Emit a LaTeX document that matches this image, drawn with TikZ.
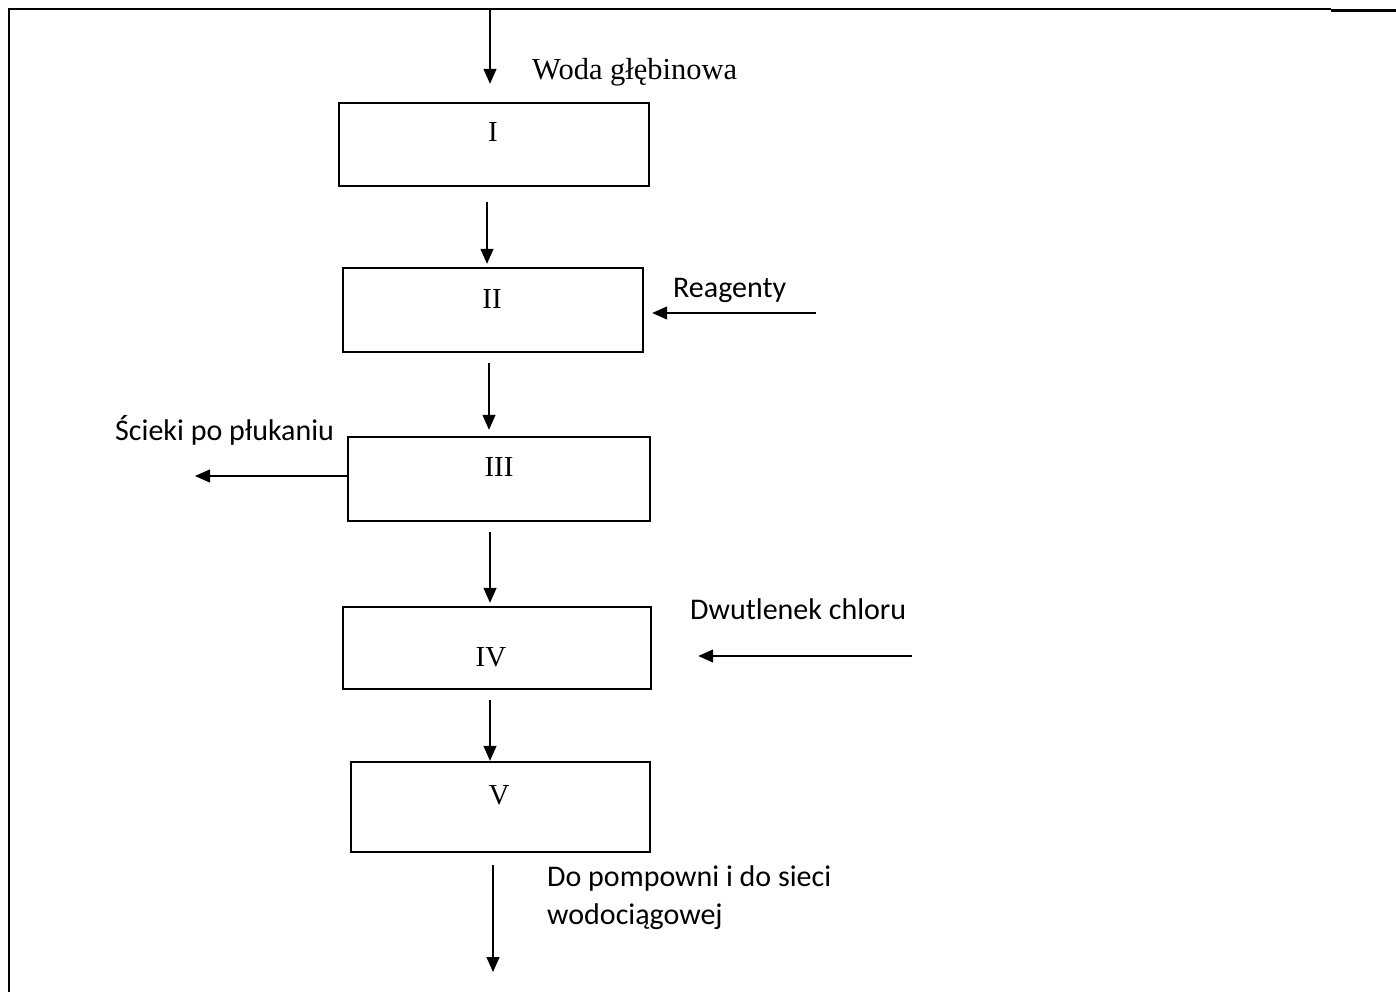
\documentclass[tikz,border=0pt]{standalone}
\usepackage{fontspec}
\setmainfont{Liberation Serif}
\newfontfamily\calib{Carlito}
\usetikzlibrary{arrows.meta}
\begin{document}
\begin{tikzpicture}[x=1pt,y=-1pt,
  box/.style={draw,line width=2.4pt,rectangle,inner sep=0pt},
  numeral/.style={font=\fontsize{29}{31}\selectfont,inner sep=0pt},
  arr/.style={line width=1.3pt,-{Triangle[length=15pt,width=13pt]}},
  serlab/.style={font=\fontsize{30.5}{34}\selectfont,inner sep=0pt,anchor=base west},
  sanslab/.style={font=\calib\fontsize{30}{38}\selectfont,inner sep=0pt,anchor=base west},
  frame/.style={line width=2pt}]
\useasboundingbox (0,0) rectangle (1396,992);
% frame
\draw[frame] (8.5,992) -- (8.5,9.5) -- (1331,9.5);
\draw[line width=3pt] (1331,10.5) -- (1396,10.5);
% boxes
\node[box,minimum width=310pt,minimum height=83pt] (b1) at (494,144.5) {};
\node[box,minimum width=300pt,minimum height=84pt] (b2) at (493,310) {};
\node[box,minimum width=302pt,minimum height=84pt] (b3) at (499,479) {};
\node[box,minimum width=308pt,minimum height=82pt] (b4) at (497,648) {};
\node[box,minimum width=299pt,minimum height=90pt] (b5) at (500.5,807) {};
% numerals
\node[numeral] (n1) at (493,132) {I};
\node[numeral] (n2) at (492,299) {II};
\node[numeral] (n3) at (499,467) {III};
\node[numeral] (n4) at (491,657) {IV};
\node[numeral] (n5) at (499,795) {V};
% free ends
\coordinate (in) at (490,10);
\coordinate (rg) at (816,313);
\coordinate (sc) at (195,476);
\coordinate (cl) at (912,656);
\coordinate (out) at (493,972);
% arrows
\draw[arr,shorten >=18pt] (in) -- ([xshift=-4pt]b1.north);
\draw[arr,shorten <=15pt,shorten >=3pt] ([xshift=-7pt]b1.south) -- ([xshift=-6pt]b2.north);
\draw[arr,shorten <=10pt,shorten >=6pt] ([xshift=-4pt]b2.south) -- ([xshift=-10pt]b3.north);
\draw[arr,shorten <=10pt,shorten >=3pt] ([xshift=-9pt]b3.south) -- ([xshift=-7pt]b4.north);
\draw[arr,shorten <=10pt] ([xshift=-7pt]b4.south) -- ([xshift=-10.5pt]b5.north);
\draw[arr,shorten <=12pt] ([xshift=-7.5pt]b5.south) -- (out);
\draw[arr,shorten >=8pt] (rg) -- (b2.east |- rg);
\draw[arr] (b3.west |- sc) -- (sc);
\draw[arr,shorten >=46pt] (cl) -- (b4.east |- cl);
% labels
\node[serlab] (lw) at (532,80) {Woda głębinowa};
\node[sanslab] (lr) at (673,297) {Reagenty};
\node[sanslab] (ls) at (115,440) {Ścieki po płukaniu};
\node[sanslab] (ld) at (690,619) {Dwutlenek chloru};
\node[sanslab,align=left] (lp) at (547,924) {Do pompowni i do sieci\\wodociągowej};
\end{tikzpicture}
\end{document}
